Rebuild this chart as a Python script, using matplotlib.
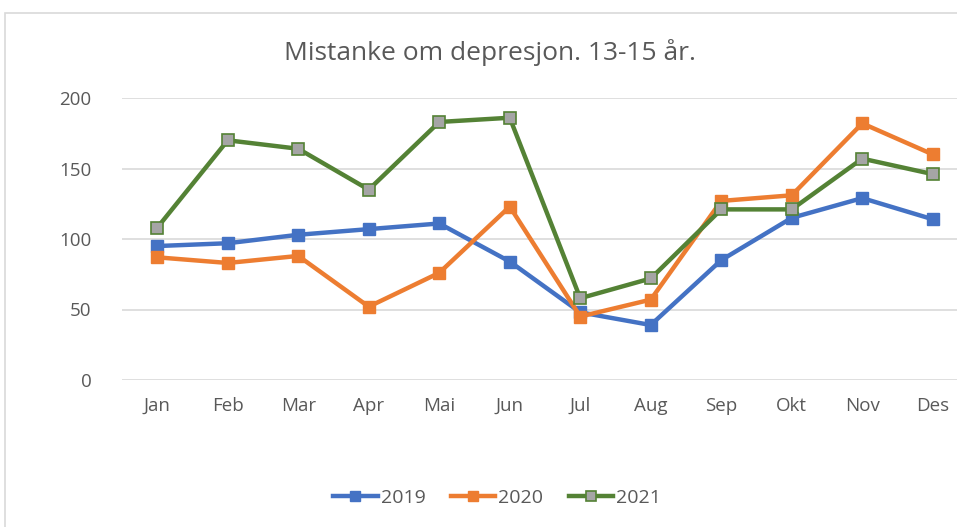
import matplotlib.pyplot as plt
from matplotlib.patches import Rectangle

months = ["Jan", "Feb", "Mar", "Apr", "Mai", "Jun", "Jul", "Aug", "Sep", "Okt", "Nov", "Des"]
y2019 = [95, 97, 103, 107, 111, 84, 48, 39, 85, 115, 129, 114]
y2020 = [87, 83, 88, 52, 76, 123, 45, 57, 127, 131, 182, 160]
y2021 = [108, 170, 164, 135, 183, 186, 58, 72, 121, 121, 157, 146]

plt.rcParams['font.family'] = ['Open Sans', 'DejaVu Sans']
grey = '#595959'

W, H = 957, 527
fig = plt.figure(figsize=(W / 100, H / 100), dpi=100)

# outer chart border (cropped at right / bottom)
fig.patches.append(Rectangle((5 / W, -0.05), 1.1, 1 - 13 / H + 0.05,
                             transform=fig.transFigure, fill=False,
                             edgecolor='#d9d9d9', linewidth=1.2))

# plot area in pixels: left 122, right 968, top 98 (200), bottom 380 (0)
ax = fig.add_axes([122 / W, 1 - 380 / H, (968 - 122) / W, (380 - 98) / H])
x = range(len(months))
ax.plot(x, y2019, color='#4472C4', lw=3.2, marker='s', ms=8.5,
        mfc='#4472C4', mec='#4472C4', label='2019')
ax.plot(x, y2020, color='#ED7D31', lw=3.2, marker='s', ms=8.5,
        mfc='#ED7D31', mec='#ED7D31', label='2020')
ax.plot(x, y2021, color='#548235', lw=3.2, marker='s', ms=8.5,
        mfc='#A5A5A5', mec='#548235', mew=1.2, label='2021')

ax.set_xlim(-0.5, 11.5)
ax.set_ylim(0, 200)
ax.set_yticks([0, 50, 100, 150, 200])
ax.set_xticks(list(x))
ax.set_xticklabels(months)
ax.grid(axis='y', color='#d9d9d9', lw=1.2)
ax.set_axisbelow(True)
for s in ax.spines.values():
    s.set_visible(False)
ax.tick_params(length=0, colors=grey, labelsize=13.5)
ax.tick_params(axis='y', pad=22)
ax.tick_params(axis='x', pad=12)

fig.text(490 / W, 1 - 53 / H, "Mistanke om depresjon. 13-15 år.",
         ha='center', va='center', fontsize=19, color=grey)

fig.legend(loc='center', bbox_to_anchor=(497 / W, 1 - 498 / H), ncol=3,
           frameon=False, fontsize=14, labelcolor=grey, handlelength=2.3,
           columnspacing=1.3, handletextpad=0.15, markerscale=0.85)

fig.savefig('out.png', dpi=100)
